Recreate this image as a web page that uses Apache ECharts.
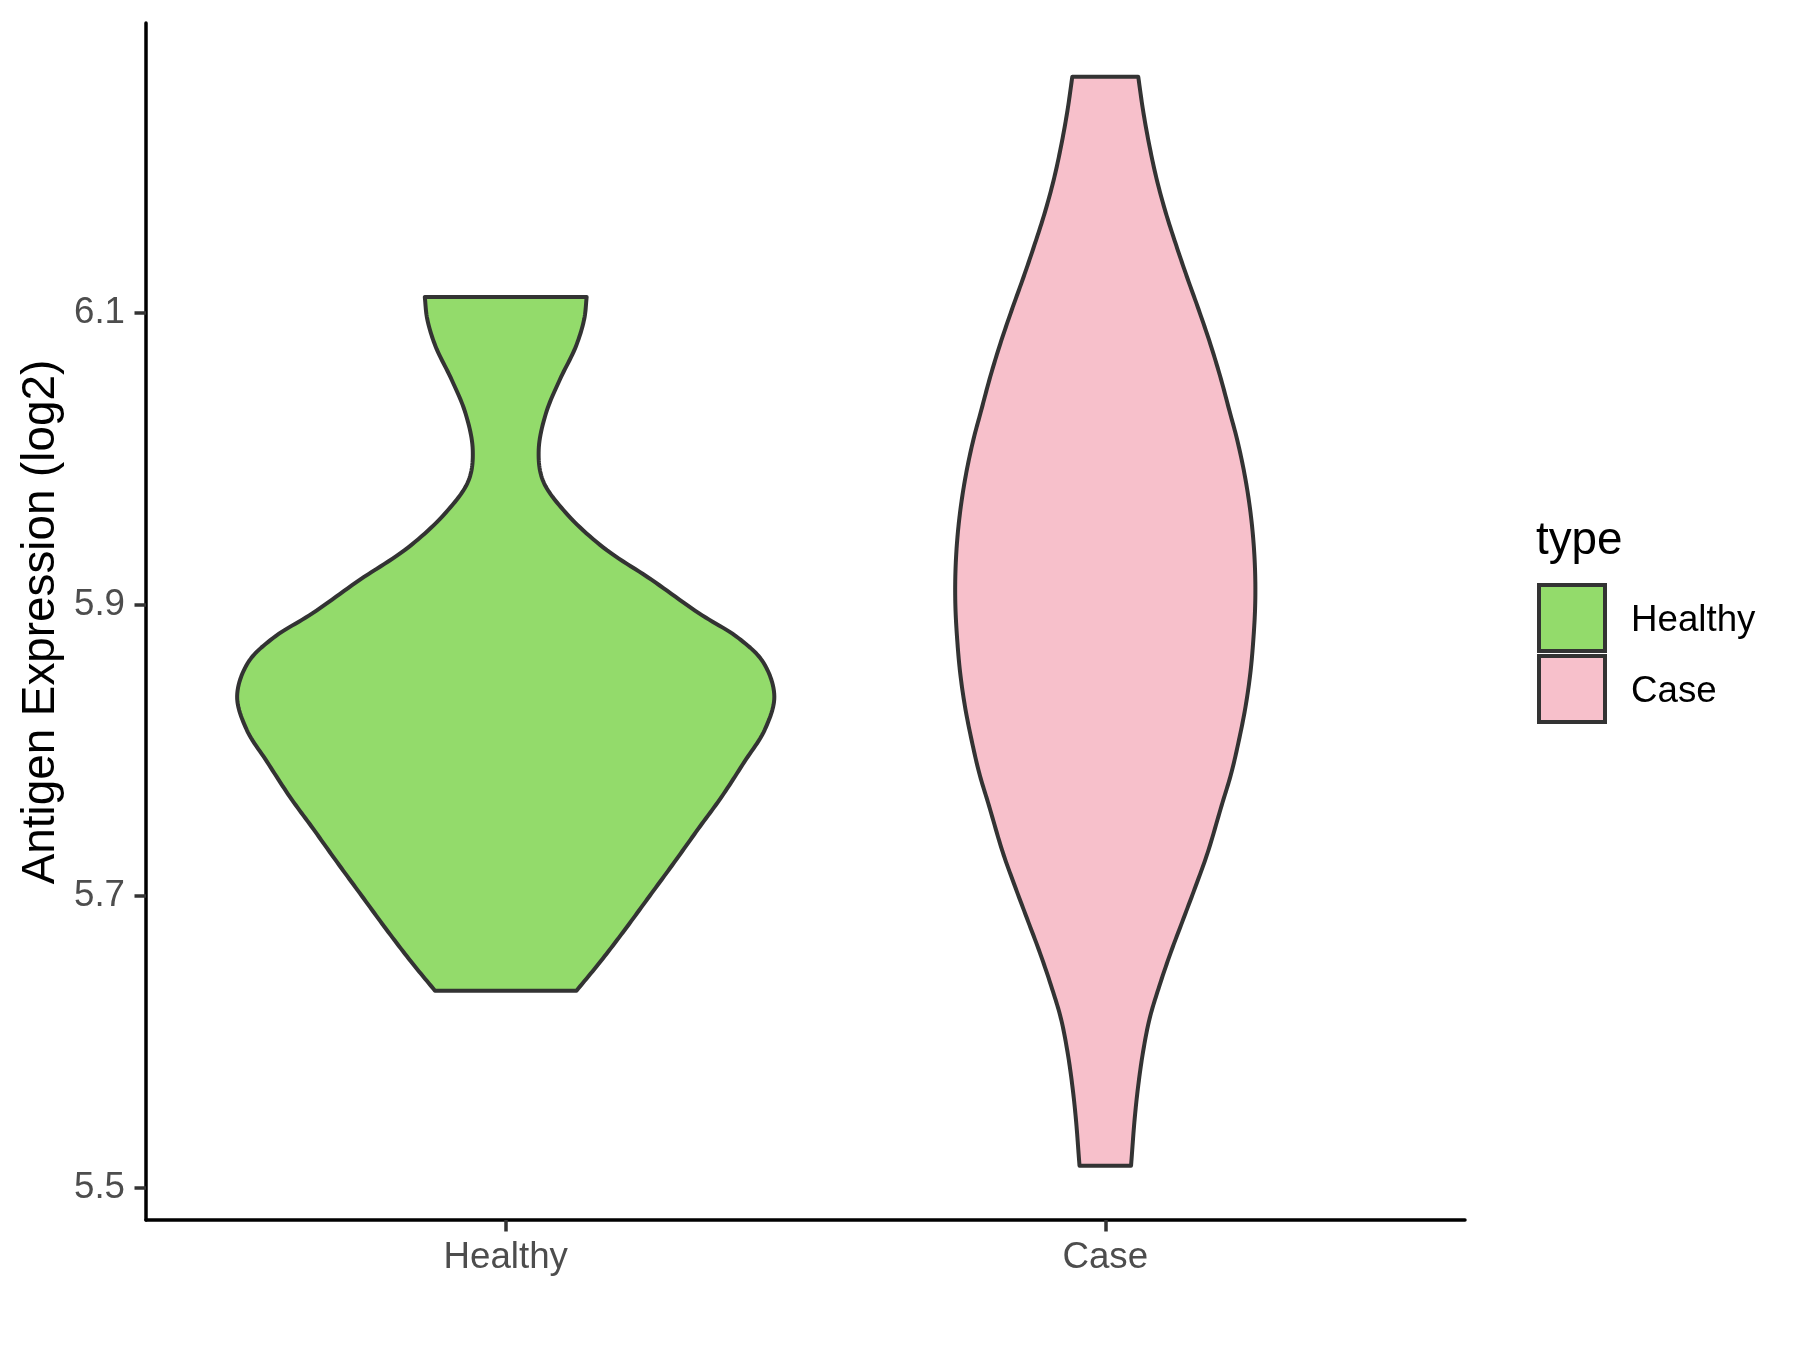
<!DOCTYPE html>
<html>
<head>
<meta charset="utf-8">
<script src="https://cdn.jsdelivr.net/npm/echarts@6/dist/echarts.min.js"></script>
<style>
  html, body { margin: 0; padding: 0; background: #fff; }
  #chart { width: 1800px; height: 1350px; }
</style>
</head>
<body>
<div id="chart"></div>
<script>
// ---- data ----
const categories = ['Healthy', 'Case'];
const yTickValues = [5.5, 5.7, 5.9, 6.1];
const yAxisTitle = 'Antigen Expression (log2)';
const legendTitle = 'type';

// Healthy violin: expression level (top -> bottom) and half-width (category units)
const healthyY  = [6.111, 6.096, 6.077, 6.054, 6.031, 6.006, 5.985, 5.963, 5.939, 5.917, 5.894, 5.877,
                   5.860, 5.837, 5.814, 5.792, 5.768, 5.746, 5.723, 5.700, 5.677, 5.655, 5.635];
const healthyHW = [0.135, 0.131, 0.117, 0.090, 0.067, 0.055, 0.062, 0.100, 0.163, 0.243, 0.322, 0.388,
                   0.430, 0.448, 0.432, 0.398, 0.360, 0.321, 0.281, 0.240, 0.199, 0.158, 0.118];

// Case violin
const caseY  = [6.262, 6.239, 6.216, 6.193, 6.170, 6.148, 6.125, 6.102, 6.079, 6.056, 6.033, 6.013,
                5.990, 5.967, 5.944, 5.921, 5.899, 5.876, 5.853, 5.830, 5.807, 5.784, 5.762, 5.730,
                5.707, 5.684, 5.661, 5.638, 5.616, 5.593, 5.570, 5.547, 5.515];
const caseHW = [0.055, 0.063, 0.073, 0.085, 0.100, 0.117, 0.136, 0.156, 0.175, 0.192, 0.207, 0.220,
                0.232, 0.241, 0.247, 0.250, 0.250, 0.247, 0.242, 0.234, 0.223, 0.210, 0.194, 0.171,
                0.151, 0.130, 0.109, 0.090, 0.074, 0.063, 0.055, 0.049, 0.043];

const healthyColor = '#93DB6B';
const caseColor = '#F7C0CB';

// ---- rendering helpers (centripetal Catmull-Rom through the read points) ----
function spline(pts, steps) {
  const n = pts.length;
  const P = [[2 * pts[0][0] - pts[1][0], 2 * pts[0][1] - pts[1][1]]].concat(pts,
            [[2 * pts[n - 1][0] - pts[n - 2][0], 2 * pts[n - 1][1] - pts[n - 2][1]]]);
  const d = (a, b) => Math.pow(Math.hypot(b[0] - a[0], b[1] - a[1]) || 1e-6, 0.5);
  const lerp = (a, b, ta, tb, t) => {
    const w = (tb - ta) || 1e-6;
    return [((tb - t) * a[0] + (t - ta) * b[0]) / w, ((tb - t) * a[1] + (t - ta) * b[1]) / w];
  };
  const out = [];
  for (let i = 1; i < P.length - 2; i++) {
    const p0 = P[i - 1], p1 = P[i], p2 = P[i + 1], p3 = P[i + 2];
    const t0 = 0, t1 = t0 + d(p0, p1), t2 = t1 + d(p1, p2), t3 = t2 + d(p2, p3);
    for (let s = 0; s < steps; s++) {
      const t = t1 + (t2 - t1) * s / steps;
      const A1 = lerp(p0, p1, t0, t1, t), A2 = lerp(p1, p2, t1, t2, t), A3 = lerp(p2, p3, t2, t3, t);
      const B1 = lerp(A1, A2, t0, t2, t), B2 = lerp(A2, A3, t1, t3, t);
      out.push(lerp(B1, B2, t1, t2, t));
    }
  }
  out.push(pts[n - 1]);
  return out;
}

function violinRender(ys, hws, xPos, color) {
  return function (params, api) {
    if (params.dataIndex !== 0) return null;
    const right = ys.map((y, i) => api.coord([xPos + hws[i], y]));
    const left = ys.map((y, i) => api.coord([xPos - hws[i], y]));
    const r = spline(right, 12);
    const l = spline(left, 12).reverse();
    return {
      type: 'polygon',
      shape: { points: r.concat(l) },
      style: { fill: color, stroke: '#333333', lineWidth: 4, lineJoin: 'round' },
      silent: true
    };
  };
}

const chart = echarts.init(document.getElementById('chart'), null, { renderer: 'canvas' });
const FONT = '"Liberation Sans", Arial, Helvetica, sans-serif';

chart.setOption({
  animation: false,
  backgroundColor: '#ffffff',
  grid: { left: 146, right: 335, top: 23, bottom: 130, containLabel: false },
  xAxis: {
    type: 'value',
    min: 0.4, max: 2.6,
    splitLine: { show: false },
    axisLine: { show: true, onZero: false, lineStyle: { color: '#000000', width: 3.5 } },
    axisTick: { show: true, length: 11.5, customValues: [1, 2], lineStyle: { color: '#333333', width: 3.5 } },
    axisLabel: {
      show: true, customValues: [1, 2], margin: 19,
      fontFamily: FONT, fontSize: 36.7, color: '#4D4D4D',
      formatter: v => categories[Math.round(v) - 1] || ''
    }
  },
  yAxis: {
    type: 'value',
    min: 5.4777, max: 6.2989,
    splitLine: { show: false },
    axisLine: { show: true, onZero: false, lineStyle: { color: '#000000', width: 3.5 } },
    axisTick: { show: true, length: 11.5, customValues: yTickValues, lineStyle: { color: '#333333', width: 3.5 } },
    axisLabel: {
      show: true, customValues: yTickValues, margin: 21,
      fontFamily: FONT, fontSize: 36.7, color: '#4D4D4D',
      formatter: v => v.toFixed(1)
    }
  },
  series: [
    {
      type: 'custom', name: categories[0], clip: false,
      renderItem: violinRender(healthyY, healthyHW, 1, healthyColor),
      data: healthyY.map((y, i) => [1, y, healthyHW[i]]),
      encode: { x: 0, y: 1 }
    },
    {
      type: 'custom', name: categories[1], clip: false,
      renderItem: violinRender(caseY, caseHW, 2, caseColor),
      data: caseY.map((y, i) => [2, y, caseHW[i]]),
      encode: { x: 0, y: 1 }
    }
  ],
  graphic: [
    {
      type: 'text', x: 41, y: 622, rotation: Math.PI / 2,
      style: { text: yAxisTitle, fontFamily: FONT, fontSize: 45.8, fill: '#000000', align: 'center', verticalAlign: 'middle' }
    },
    {
      type: 'text', x: 1536, y: 541,
      style: { text: legendTitle, fontFamily: FONT, fontSize: 45.8, fill: '#000000', align: 'left', verticalAlign: 'middle' }
    },
    {
      type: 'rect', shape: { x: 1539, y: 585, width: 66, height: 66 },
      style: { fill: healthyColor, stroke: '#333333', lineWidth: 4 }
    },
    {
      type: 'rect', shape: { x: 1539, y: 656, width: 66, height: 66 },
      style: { fill: caseColor, stroke: '#333333', lineWidth: 4 }
    },
    {
      type: 'text', x: 1631, y: 621,
      style: { text: categories[0], fontFamily: FONT, fontSize: 36.7, fill: '#000000', align: 'left', verticalAlign: 'middle' }
    },
    {
      type: 'text', x: 1631, y: 692,
      style: { text: categories[1], fontFamily: FONT, fontSize: 36.7, fill: '#000000', align: 'left', verticalAlign: 'middle' }
    }
  ]
});
</script>
</body>
</html>
